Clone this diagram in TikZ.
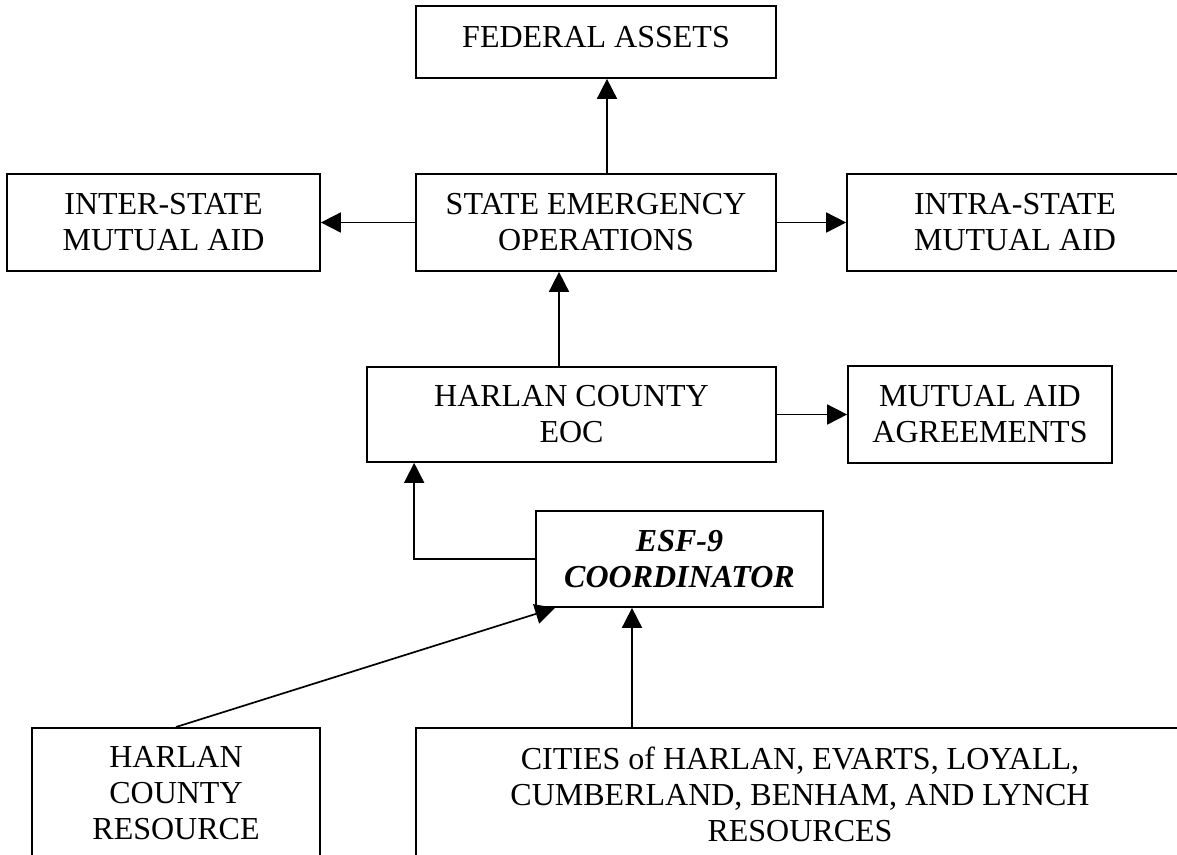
\documentclass[tikz,border=0pt]{standalone}
\usepackage{fontspec}
\setmainfont{Liberation Serif}
\usepackage{tikz}
\usetikzlibrary{arrows.meta}
\tikzset{
	box/.style={draw, line width=1.7pt, inner sep=0pt, align=center,
		font=\fontsize{32}{36}\selectfont},
	link/.style={line width=1.7pt, -{Triangle[length=20pt,width=20pt]}}
}

\begin{document}
\begin{tikzpicture}[x=1pt, y=-1pt]
			%%%%% START %%%%%
			
			\useasboundingbox (0, 0) rectangle (1177, 854);
			\clip (0, 0) rectangle (1177, 854);
			
			\node[box, minimum width=360pt, minimum height=72pt, text depth=10pt] (fed) at (596, 42) {FEDERAL ASSETS};
			
			\node[box, minimum width=313pt, minimum height=97pt] (inter) at (163.5, 222.5) {INTER-STATE\\MUTUAL AID};
			\node[box, minimum width=360pt, minimum height=97pt] (state) at (596, 222.5) {STATE EMERGENCY\\OPERATIONS};
			\node[box, minimum width=336pt, minimum height=97pt] (intra) at (1015, 222.5) {INTRA-STATE\\MUTUAL AID};
			
			\node[box, minimum width=409pt, minimum height=95pt] (eoc) at (571.5, 414.5) {HARLAN COUNTY\\EOC};
			\node[box, minimum width=264pt, minimum height=97pt] (maa) at (980, 414.5) {MUTUAL AID\\AGREEMENTS};
			
			\node[box, minimum width=287pt, minimum height=96pt, font=\fontsize{32}{36}\selectfont\bfseries\itshape] (esf) at (679.5, 559) {ESF-9\\COORDINATOR};
			
			\node[box, anchor=north, minimum width=288pt, inner ysep=18.8pt] (hcr) at (176, 727) {HARLAN\\COUNTY\\RESOURCE};
			\node[box, anchor=north, minimum width=768pt, inner ysep=18.8pt] (cities) at (800, 727) {CITIES of HARLAN, EVARTS, LOYALL,\\CUMBERLAND, BENHAM, AND LYNCH\\RESOURCES};
			
			\draw[link] ([xshift=11pt]state.north) -- ([xshift=11pt]fed.south);
			\draw[link] (state.west) -- (inter.east);
			\draw[link] (state.east) -- (intra.west);
			\draw[link] ([xshift=-12.5pt]eoc.north) -- ([xshift=-37pt]state.south);
			\draw[link] (eoc.east) -- (maa.west);
			\draw[link] (esf.west) -| ([xshift=48pt]eoc.south west);
			\draw[link] (hcr.north) -- ([xshift=20pt]esf.south west);
			\draw[link] ([xshift=-168pt]cities.north) -- ([xshift=-47.5pt]esf.south);
			
			%%%%% END %%%%%
		\end{tikzpicture}
\end{document}
